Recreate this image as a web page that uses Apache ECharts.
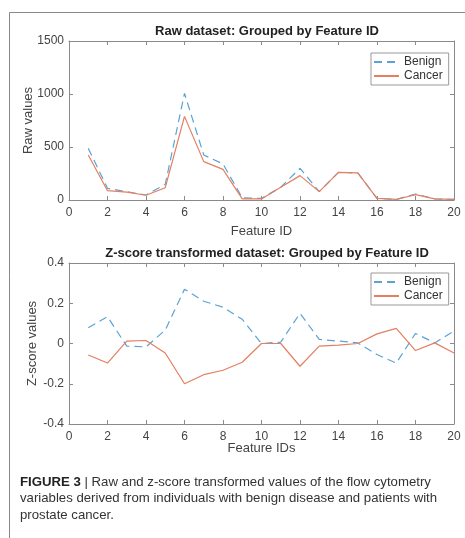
<!DOCTYPE html>
<html><head><meta charset="utf-8">
<script src="https://cdn.jsdelivr.net/npm/echarts@6/dist/echarts.min.js"></script>
<style>html,body{margin:0;padding:0;background:#fff;}#c{width:465px;height:538px;}</style>
</head><body><div id="c"></div>
<script>
const featureIds = [1,2,3,4,5,6,7,8,9,10,11,12,13,14,15,16,17,18,19,20];
const rawBenign = [487,110,78,47,148,1006,425,340,20,15,120,299,79,261,255,15,5,57,10,5];
const rawCancer = [425,88,75,45,116,789,362,289,10,10,120,230,79,261,255,15,5,50,10,5];
const zBenign = [0.078,0.133,-0.013,-0.017,0.067,0.27,0.21,0.18,0.12,0.0,0.007,0.15,0.02,0.012,0.003,-0.055,-0.097,0.05,0.003,0.062];
const zCancer = [-0.057,-0.097,0.012,0.015,-0.047,-0.2,-0.155,-0.133,-0.093,0.0,0.0,-0.113,-0.013,-0.008,0.0,0.048,0.075,-0.035,0.003,-0.047];
const xTicks = [0,2,4,6,8,10,12,14,16,18,20];
const rawTicks = [0,500,1000,1500];
const zTicks = [-0.4,-0.2,0,0.2,0.4];
const titles = ['Raw dataset: Grouped by Feature ID','Z-score transformed dataset: Grouped by Feature ID'];
const seriesNames = ['Benign','Cancer'];

const FONT = 'Liberation Sans, Arial, sans-serif';
const axisCol = '#8a8a8a';
const labelCol = '#444';
const blue = '#5ba3d4', orange = '#e47f60';

function pairs(vals){ return featureIds.map((x,i)=>[x,vals[i]]); }

function xAx(grid, name, pos, gap){
  const main = pos==='bottom';
  return {type:'value', gridIndex:grid, position:pos, min:xTicks[0], max:xTicks[xTicks.length-1], interval:xTicks[1]-xTicks[0],
    name: main?name:'', nameLocation:'middle', nameGap:gap||0, nameMoveOverlap:false,
    nameTextStyle:{fontFamily:FONT,fontSize:13,color:labelCol},
    axisLine:{show:true,onZero:false,lineStyle:{color:axisCol,width:1}},
    axisTick:{show:true,inside:true,length:4,lineStyle:{color:axisCol}},
    axisLabel:{show:main,fontFamily:FONT,fontSize:12,color:labelCol,margin:7},
    splitLine:{show:false}};
}
function yAx(grid, name, pos, ticks, gap){
  const main = pos==='left';
  return {type:'value', gridIndex:grid, position:pos, min:ticks[0], max:ticks[ticks.length-1], interval:ticks[1]-ticks[0],
    name: main?name:'', nameLocation:'middle', nameGap:gap||0, nameMoveOverlap:false,
    nameTextStyle:{fontFamily:FONT,fontSize:13,color:labelCol},
    axisLine:{show:true,onZero:false,lineStyle:{color:axisCol,width:1}},
    axisTick:{show:true,inside:true,length:4,lineStyle:{color:axisCol}},
    axisLabel:{show:main,fontFamily:FONT,fontSize:12,color:labelCol,margin:5,
      formatter:v=>String(Math.round(v*10)/10)},
    splitLine:{show:false}};
}
function legendAt(top){
  return {data:[seriesNames[0],seriesNames[1]], orient:'vertical', left:371, top:top,
    itemWidth:25, itemHeight:8, itemGap:2, padding:[3,6,3,2],
    borderColor:'#999', borderWidth:1, backgroundColor:'#fff',
    itemStyle:{opacity:0},
    textStyle:{fontFamily:FONT,fontSize:12,color:'#333'}};
}

const chart = echarts.init(document.getElementById('c'), null, {renderer:'canvas'});
chart.setOption({
  backgroundColor:'#fff',
  animation:false,
  title:[
    {text:titles[0], left:262, textAlign:'center', top:20, textStyle:{fontFamily:FONT,fontSize:13,fontWeight:'bold',color:'#222'}},
    {text:titles[1], left:262, textAlign:'center', top:242, textStyle:{fontFamily:FONT,fontSize:13,fontWeight:'bold',color:'#222'}}
  ],
  grid:[
    {left:69, top:41, width:385, height:159},
    {left:69, top:263, width:385, height:161}
  ],
  xAxis:[xAx(0,'Feature ID','bottom',25), xAx(0,'','top'), xAx(1,'Feature IDs','bottom',18), xAx(1,'','top')],
  yAxis:[
    yAx(0,'Raw values','left',rawTicks,34),
    yAx(0,'','right',rawTicks),
    yAx(1,'Z-score values','left',zTicks,30),
    yAx(1,'','right',zTicks)
  ],
  legend:[legendAt(53), legendAt(273)],
  series:[
    {name:seriesNames[0], type:'line', xAxisIndex:0, yAxisIndex:0, data:pairs(rawBenign), symbol:'none', showSymbol:false, lineStyle:{color:blue,width:1.2,type:[8,5]}, itemStyle:{color:blue}},
    {name:seriesNames[1], type:'line', xAxisIndex:0, yAxisIndex:0, data:pairs(rawCancer), symbol:'none', showSymbol:false, lineStyle:{color:orange,width:1.2}, itemStyle:{color:orange}},
    {name:seriesNames[0], type:'line', xAxisIndex:2, yAxisIndex:2, data:pairs(zBenign), symbol:'none', showSymbol:false, lineStyle:{color:blue,width:1.2,type:[8,5]}, itemStyle:{color:blue}},
    {name:seriesNames[1], type:'line', xAxisIndex:2, yAxisIndex:2, data:pairs(zCancer), symbol:'none', showSymbol:false, lineStyle:{color:orange,width:1.2}, itemStyle:{color:orange}}
  ],
  graphic:[
    {type:'line', shape:{x1:9.5,y1:12.5,x2:465,y2:12.5}, style:{stroke:'#888',lineWidth:1}},
    {type:'line', shape:{x1:9.5,y1:12.5,x2:9.5,y2:538}, style:{stroke:'#888',lineWidth:1}},
    {type:'text', left:20, top:474, style:{
      text:'{b|FIGURE 3} | Raw and z-score transformed values of the flow cytometry\nvariables derived from individuals with benign disease and patients with\nprostate cancer.',
      font:'13.2px '+FONT, fill:'#333', lineHeight:16.5,
      rich:{b:{fontWeight:'bold',fontFamily:FONT,fontSize:13.2,fill:'#222'}}
    }}
  ]
});
</script></body></html>
